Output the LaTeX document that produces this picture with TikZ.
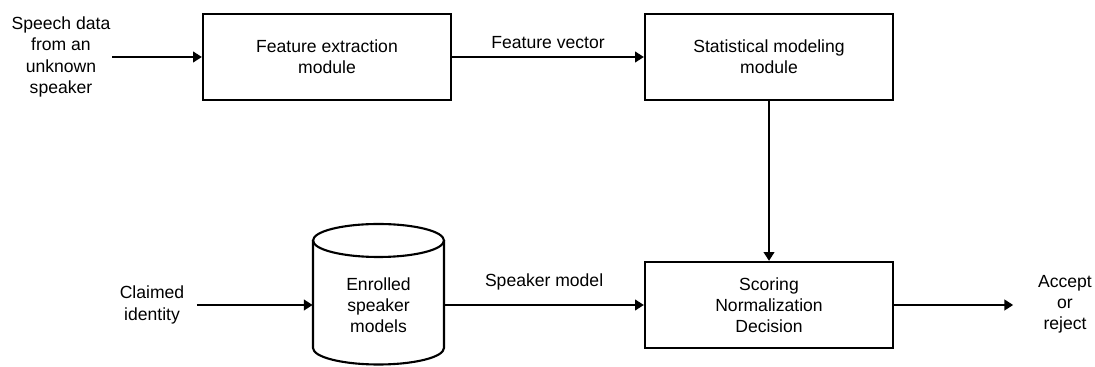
\documentclass[tikz,border=0pt]{standalone}
\usepackage{fontspec}
\setmainfont{Liberation Sans}
\usetikzlibrary{positioning,arrows.meta}

\tikzset{
  txt/.style={align=center,inner sep=1pt,font=\fontsize{10}{12}\selectfont},
  block/.style={txt,draw,line width=1.3pt,minimum width=4.96cm,minimum height=1.72cm},
  flow/.style={-{Triangle[length=5pt,width=6pt]},line width=1.2pt}
}

\begin{document}
\begin{tikzpicture}[x=0.02cm,y=-0.02cm]
    \useasboundingbox (0,0) rectangle (1095,367);
    % processing blocks
    \node[block] (fe) at (327,57) {Feature extraction\\module};
    \node[block] (sm) at (769,57) {Statistical modeling\\module};
    \node[block] (sc) at (769,305) {Scoring\\Normalization\\Decision};
    % database of enrolled models
    \draw[line width=1.2pt] (378.5,240.5) ellipse [x radius=1.31cm, y radius=0.33cm];
    \draw[line width=1.2pt] (313,240.5) -- (313,348)
        arc [start angle=180, end angle=360, x radius=1.31cm, y radius=0.33cm]
        -- (444,240.5);
    \node[txt,minimum width=2.62cm] (db) at (378.5,305) {Enrolled\\speaker\\models};
    % inputs and output
    \node[txt] (spk) at (61,57) {Speech data\\from an\\unknown\\speaker};
    \node[txt] (cid) at (152,305) {Claimed\\identity};
    \node[txt] (res) at (1065,304) {Accept\\or\\reject};
    % connections
    \draw[flow] (spk.east) -- (fe.west);
    \draw[flow] (fe.east) -- node[txt,above=3pt] {Feature vector} (sm.west);
    \draw[flow] (sm.south) -- (sc.north);
    \draw[flow,shorten <=6pt] (cid.east) -- (db.west);
    \draw[flow] (db.east) -- node[txt,above=7pt] {Speaker model} (sc.west);
    \draw[flow,shorten >=13pt] (sc.east) -- (sc.east -| res.west);
\end{tikzpicture}
\end{document}
